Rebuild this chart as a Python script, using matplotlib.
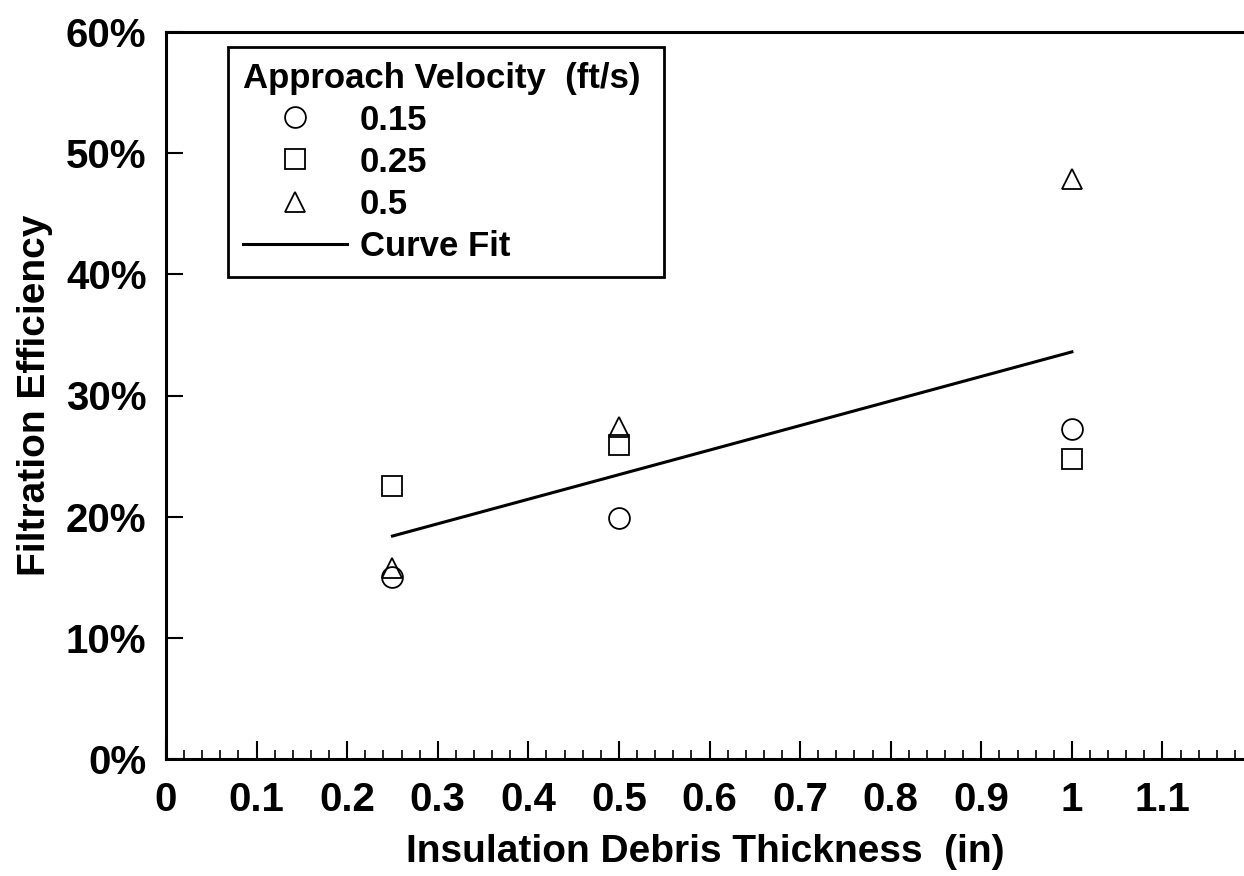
import numpy as np
import matplotlib
matplotlib.use("Agg")
import matplotlib.pyplot as plt
from matplotlib.ticker import MultipleLocator, FuncFormatter

plt.rcParams['font.family'] = ['Liberation Sans', 'DejaVu Sans']
plt.rcParams['font.weight'] = 'bold'

# data (thickness in inches, efficiency in %)
thickness = [0.25, 0.5, 1.0]
eff_015 = [15.0, 19.9, 27.2]
eff_025 = [22.5, 25.9, 24.8]
eff_05 = [15.8, 27.4, 47.9]
fit_x = [0.25, 1.0]
fit_y = [18.4, 33.6]
x_ticks = [0, 0.1, 0.2, 0.3, 0.4, 0.5, 0.6, 0.7, 0.8, 0.9, 1, 1.1]
x_labels = ['0', '0.1', '0.2', '0.3', '0.4', '0.5', '0.6', '0.7', '0.8', '0.9', '1', '1.1']

fig = plt.figure(figsize=(12.44, 8.76), dpi=100)
ax = fig.add_axes([166/1244, 1-759/876, 1-166/1244, (759-32)/876])

mk = dict(linestyle='none', markerfacecolor='none', markeredgecolor='black',
          markeredgewidth=1.3, markersize=15)
ax.plot(thickness, eff_015, marker='o', label='0.15', **mk)
ax.plot(thickness, eff_025, marker='s', label='0.25', **mk)
ax.plot(thickness, eff_05, marker='^', label='0.5', **mk)
ax.plot(fit_x, fit_y, color='black', lw=2.2, label='Curve Fit')

ax.set_xlim(0, 1.19)
ax.set_ylim(0, 60)
ax.set_xticks(x_ticks)
ax.set_xticklabels(x_labels)
ax.xaxis.set_minor_locator(MultipleLocator(0.02))
ax.yaxis.set_major_locator(MultipleLocator(10))
ax.yaxis.set_major_formatter(FuncFormatter(lambda v, p: f'{v:.0f}%'))

ax.tick_params(axis='x', which='major', direction='in', length=13, width=1.5,
               labelsize=29, pad=16)
ax.tick_params(axis='x', which='minor', direction='in', length=6.5, width=1.2)
ax.tick_params(axis='y', which='major', direction='in', length=12, width=1.5,
               labelsize=29, pad=14)

for s in ['left', 'bottom', 'top']:
    ax.spines[s].set_linewidth(2.2)
ax.spines['right'].set_visible(False)

ax.set_xlabel('Insulation Debris Thickness  (in)', fontsize=28, fontweight='bold')
ax.xaxis.set_label_coords(0.5, -0.103)
ax.set_ylabel('Filtration Efficiency', fontsize=28, fontweight='bold')
ax.yaxis.set_label_coords(-0.105, 0.5)

leg = ax.legend(title='Approach Velocity  (ft/s) ', loc='upper left',
                bbox_to_anchor=(228/1244, 1-47/876), bbox_transform=fig.transFigure,
                fontsize=25, title_fontsize=25, alignment='left',
                handlelength=3.0, handletextpad=0.37, labelspacing=0.26,
                borderpad=0.42, borderaxespad=0, fancybox=False, framealpha=1,
                edgecolor='black')
leg.get_frame().set_linewidth(2)
leg.get_title().set_fontweight('bold')

fig.savefig('out.png', dpi=100)
